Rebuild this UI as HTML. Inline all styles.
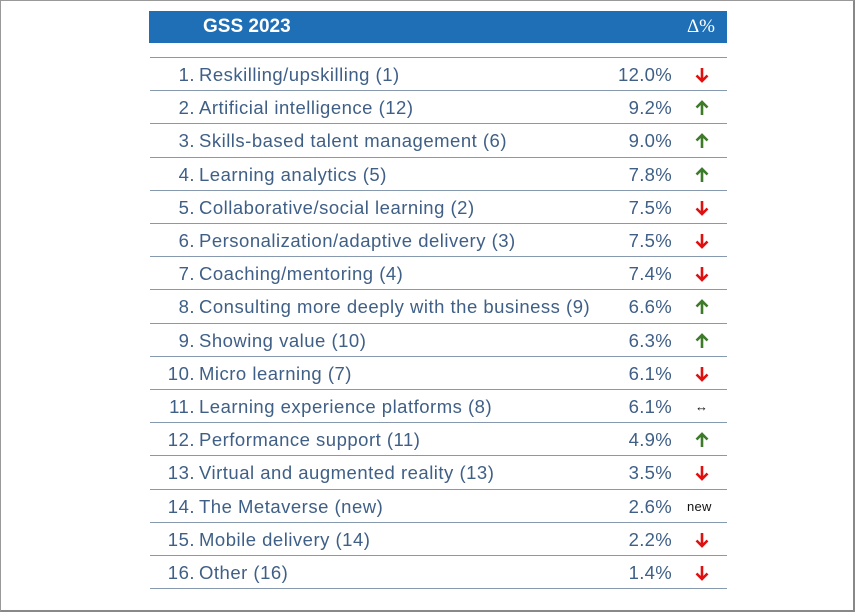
<!DOCTYPE html>
<html><head><meta charset="utf-8"><style>
body{margin:0;width:855px;height:612px;background:#fff;position:relative;overflow:hidden;font-family:"Liberation Sans","DejaVu Sans",sans-serif}
.frame{position:absolute;left:0;top:0;width:852px;height:609px;border:1px solid #999;border-right:2px solid #888;border-bottom:2px solid #888}
.hdr{position:absolute;left:149px;top:11px;width:578px;height:32px;background:#1f6fb6;color:#fff}
.hdr .t{position:absolute;left:54px;top:5px;font-size:19px;font-weight:bold}
.hdr .d{position:absolute;right:12px;top:5px;font-size:19px;font-family:"Liberation Serif",serif}
.line{position:absolute;left:150px;width:577px;height:0;border-top:1.5px solid #8799ae}
.row{position:absolute;left:150px;width:577px;height:33px;color:#3f5f86;font-size:18.5px;letter-spacing:0.5px}
.n{position:absolute;right:532px;top:6px;white-space:nowrap}
.l{position:absolute;left:49px;top:6px;white-space:nowrap}
.p{position:absolute;right:55px;top:6px;letter-spacing:0.3px}
.a{position:absolute;left:545px;top:9px}
.bk{position:absolute;color:#111;font-size:13px;top:9px;letter-spacing:0.3px}
</style></head><body>
<div class="frame"></div>
<div class="hdr"><span class="t">GSS 2023</span><span class="d">Δ%</span></div>
<div id="c"></div>
<script>
var d=[["Reskilling/upskilling (1)","12.0%","d"],["Artificial intelligence (12)","9.2%","u"],["Skills-based talent management (6)","9.0%","u"],["Learning analytics (5)","7.8%","u"],["Collaborative/social learning (2)","7.5%","d"],["Personalization/adaptive delivery (3)","7.5%","d"],["Coaching/mentoring (4)","7.4%","d"],["Consulting more deeply with the business (9)","6.6%","u"],["Showing value (10)","6.3%","u"],["Micro learning (7)","6.1%","d"],["Learning experience platforms (8)","6.1%","lr"],["Performance support (11)","4.9%","u"],["Virtual and augmented reality (13)","3.5%","d"],["The Metaverse (new)","2.6%","new"],["Mobile delivery (14)","2.2%","d"],["Other (16)","1.4%","d"]];
var dn='<svg class="a" width="14" height="16" viewBox="0 0 14 16"><path d="M7 1V14M1.5 8.5L7 14L12.5 8.5" fill="none" stroke="#e01010" stroke-width="2.6"/></svg>';
var up='<svg class="a" width="14" height="16" viewBox="0 0 14 16"><path d="M7 15V2M1.5 7.5L7 2L12.5 7.5" fill="none" stroke="#3d7a2a" stroke-width="2.6"/></svg>';
var h='';
for(var i=0;i<=16;i++){h+='<div class="line" style="top:'+(57+i*33.2).toFixed(1)+'px"></div>';}
d.forEach(function(r,i){
var y=(57+i*33.2+1).toFixed(1);
var a=r[2]=='d'?dn:r[2]=='u'?up:r[2]=='lr'?'<span class="bk" style="left:545px">↔</span>':'<span class="bk" style="left:537px">new</span>';
h+='<div class="row" style="top:'+y+'px"><span class="n">'+(i+1)+'.</span><span class="l">'+r[0]+'</span><span class="p">'+r[1]+'</span>'+a+'</div>';
});
document.getElementById('c').innerHTML=h;
</script>
</body></html>
